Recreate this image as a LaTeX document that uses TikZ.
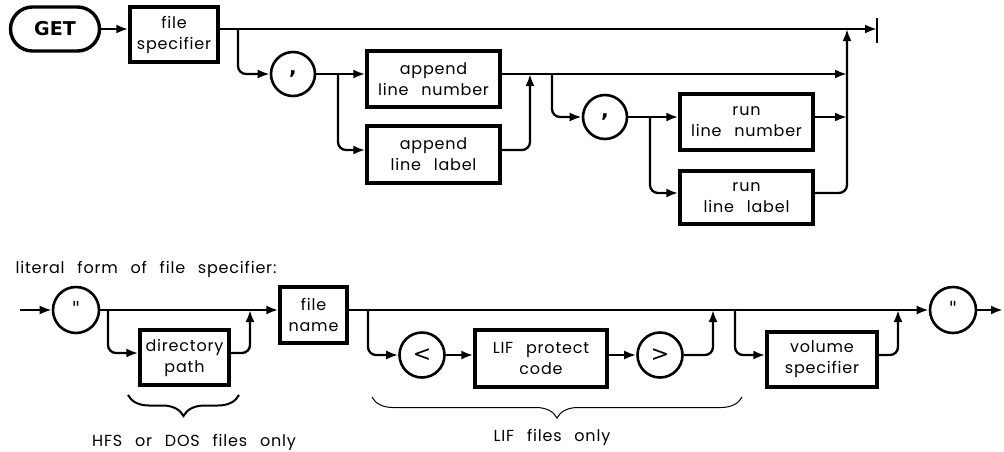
\documentclass[tikz,border=0pt]{standalone}
\usepackage{fontspec}
\setmainfont{Poppins}[LetterSpace=5]
\newfontfamily\getfont{DejaVu Sans}
\usetikzlibrary{arrows.meta,shapes.misc,decorations.pathreplacing}
\newcommand\widesp{\spaceskip=0.8em\relax}
\begin{document}
\begin{tikzpicture}[x=1pt,y=-1pt,
  lbl/.style={font=\fontsize{16}{21}\selectfont, align=center, execute at begin node=\widesp},
  box/.style={draw, line width=3.4pt, rectangle, inner sep=0pt, lbl},
  term/.style={draw, circle, line width=2.6pt, inner sep=0pt, font=\getfont\fontsize{18}{20}\selectfont},
  conn/.style={line width=2.3pt},
  arr/.style={conn, -{Latex[length=12pt,width=9pt]}},
  rc/.style={rounded corners=8pt},
  bracestyle/.style={decorate, decoration={brace, mirror, amplitude=21pt}}]
\useasboundingbox (0,0) rectangle (1004,451);

% ---------- top diagram ----------
\node[draw, rounded rectangle, line width=3.4pt, minimum width=89pt, minimum height=44pt,
      inner sep=0pt, font=\getfont\bfseries\fontsize{19}{20}\selectfont] (get) at (55,29) {GET};
\node[box, minimum width=88pt, minimum height=55pt] (fs) at (174,34.5) {file\\specifier};
\node[term, minimum size=44pt, font=\getfont\bfseries\fontsize{20}{20}\selectfont] (c1) at (293,74) {\raisebox{-4pt}{,}};
\node[box, minimum width=133pt, minimum height=56pt] (aln) at (433.5,79) {append\\line number};
\node[box, minimum width=133pt, minimum height=57pt] (all) at (433.5,154.5) {append\\line label};
\node[term, minimum size=44pt, font=\getfont\bfseries\fontsize{20}{20}\selectfont] (c2) at (605,117) {\raisebox{-4pt}{,}};
\node[box, minimum width=133pt, minimum height=56pt] (rln) at (746.5,122) {run\\line number};
\node[box, minimum width=133pt, minimum height=53pt] (rll) at (746.5,197.5) {run\\line label};

\coordinate (endbar) at (877,29);
\coordinate (j1) at (238,29);
\coordinate (j2) at (338,74);
\coordinate (j3) at (552,74);
\coordinate (j4) at (650,117);
\coordinate (k1) at (530,74);
\coordinate (k2) at (847,74);
\coordinate (k3) at (847,117);
\coordinate (k4) at (847,29);

\draw[arr] (get.east) -- (fs.west |- get.east);
\draw[arr] (fs.east |- get.east) -- (endbar);
\draw[line width=2.6pt] (877,18) -- (877,43);
\draw[arr, rc] (j1) |- (c1.west);
\draw[arr] (c1.east) -- (aln.west |- c1.east);
\draw[arr, rc] (j2) |- ([yshift=4.5pt]all.west);
\draw[arr, rc] ([yshift=4.5pt]all.east) -| (k1);
\draw[arr] (aln.east |- c1.east) -- (k2);
\draw[arr, rc] (j3) |- (c2.west);
\draw[arr] (c2.east) -- (rln.west |- c2.east);
\draw[arr, rc] (j4) |- ([yshift=4.5pt]rll.west);
\draw[arr] (rln.east |- c2.east) -- (k3);
\draw[arr, rc] ([yshift=4.5pt]rll.east) -| (k4);

% ---------- bottom diagram ----------
\node[lbl, anchor=west] (lit) at (12,269) {literal form of file specifier:};
\node[term, minimum size=46pt] (q1) at (76,310) {\raisebox{4pt}{"}};
\node[box, minimum width=89pt, minimum height=55pt] (dp) at (184.5,357.5) {directory\\path};
\node[box, minimum width=67pt, minimum height=56pt] (fn) at (313.5,315) {file\\name};
\node[term, minimum size=45pt, font=\getfont\fontsize{22}{22}\selectfont] (lt) at (422,355) {<};
\node[box, minimum width=132pt, minimum height=57pt] (lpc) at (541,358.5) {LIF protect\\code};
\node[term, minimum size=45pt, font=\getfont\fontsize{22}{22}\selectfont] (gt) at (660,355) {>};
\node[box, minimum width=110pt, minimum height=55pt] (vs) at (822,359.5) {volume\\specifier};
\node[term, minimum size=46pt] (q2) at (953,310) {\raisebox{4pt}{"}};

\coordinate (start) at (20,310);
\coordinate (finish) at (1003,310);
\coordinate (b1) at (108,310);
\coordinate (b2) at (250,310);
\coordinate (b3) at (368,310);
\coordinate (b4) at (713,310);
\coordinate (b5) at (735,310);
\coordinate (b6) at (898,310);

\draw[arr] (start) -- (q1.west);
\draw[arr] (q1.east) -- (fn.west |- q1.east);
\draw[arr, rc] (b1) |- ([yshift=4.5pt]dp.west);
\draw[arr, rc] ([yshift=4.5pt]dp.east) -| (b2);
\draw[arr] (fn.east |- q1.east) -- (q2.west);
\draw[arr, rc] (b3) |- (lt.west);
\draw[arr] (lt.east) -- (lpc.west |- lt.east);
\draw[arr] (lpc.east |- lt.east) -- (gt.west);
\draw[arr, rc] (gt.east) -| (b4);
\draw[arr, rc] (b5) |- (vs.west |- lt.east);
\draw[arr, rc] (vs.east |- lt.east) -| (b6);
\draw[arr] (q2.east) -- (finish);

% braces and notes
\coordinate (br1a) at (128,395);
\coordinate (br1b) at (239,395);
\coordinate (br2a) at (372,397);
\coordinate (br2b) at (742,397);
\draw[line width=2pt, bracestyle] (br1a) -- (br1b);
\draw[line width=1pt, bracestyle] (br2a) -- (br2b);
\node[lbl] (hfs) at (194,442) {HFS or DOS files only};
\node[lbl] (lif) at (552,437) {LIF files only};
\end{tikzpicture}
\end{document}
